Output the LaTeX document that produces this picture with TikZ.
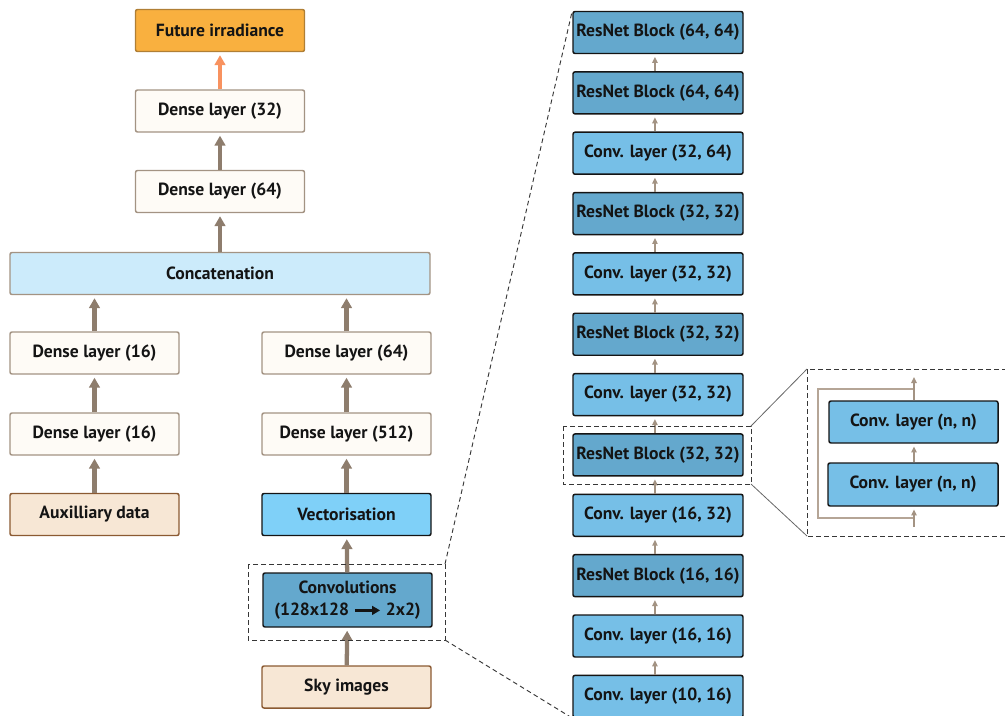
\documentclass[tikz,border=0pt]{standalone}
\usepackage{fontspec}
\setmainfont{PT Sans}
\usetikzlibrary{arrows.meta}

\definecolor{outC}{HTML}{F9B03F}
\definecolor{outB}{HTML}{B07F35}
\definecolor{creamC}{HTML}{FEFBF6}
\definecolor{greyB}{HTML}{A39383}
\definecolor{catC}{HTML}{CCEBFB}
\definecolor{inC}{HTML}{F7E7D5}
\definecolor{inB}{HTML}{8B5A32}
\definecolor{vecC}{HTML}{7FD0F8}
\definecolor{resC}{HTML}{64A8CD}
\definecolor{convC}{HTML}{76BFE7}
\definecolor{flowC}{HTML}{8E7D6D}
\definecolor{hotC}{HTML}{F8925F}
\definecolor{thinC}{HTML}{A39383}
\definecolor{skipC}{HTML}{B5A596}
\definecolor{inkC}{HTML}{141414}

% one drawing unit is one pixel of a 1005 x 715 canvas (0.75pt)
\tikzset{
  box/.style={draw, rounded corners=1.5pt, line width=1.1pt, align=center,
    font=\fontsize{13.2}{17}\selectfont\bfseries, text=inkC,
    minimum width=126.75pt, minimum height=31.5pt, inner sep=0pt},
  outbox/.style={box, fill=outC, draw=outB},
  densebox/.style={box, fill=creamC, draw=greyB},
  catbox/.style={box, fill=catC, draw=greyB, minimum width=315pt},
  inbox/.style={box, fill=inC, draw=inB},
  vecbox/.style={box, fill=vecC, draw=inkC},
  resbox/.style={box, fill=resC, draw=inkC, minimum width=127.5pt},
  convbox/.style={box, fill=convC, draw=inkC, minimum width=127.5pt},
  flow/.style={draw=flowC, line width=3.2pt, shorten >=2.2pt,
    -{Triangle[length=7.5pt,width=8pt]}},
  hotflow/.style={flow, draw=hotC},
  thin/.style={draw=thinC, line width=1.1pt, shorten >=2pt,
    -{Triangle[length=4.5pt,width=4pt]}},
  skip/.style={draw=skipC, line width=1.2pt},
  zoomframe/.style={draw=inkC!85, dash pattern=on 3.5pt off 2.5pt, line width=0.7pt},
  zoomlink/.style={draw=black!60, line width=0.6pt},
}

\begin{document}
\begin{tikzpicture}[x=0.75pt, y=-0.75pt]
\useasboundingbox (0,0) rectangle (1005,715);

% ---------- main network ----------
\node[outbox]   (fut)  at (220,30.5)  {Future irradiance};
\node[densebox] (d32)  at (220,111)   {Dense layer (32)};
\node[densebox] (d64a) at (220,191.5) {Dense layer (64)};
\node[catbox]   (cat)  at (220,273.5) {Concatenation};
\node[densebox] (d16a) at (94.5,353)  {Dense layer (16)};
\node[densebox] (d64b) at (346.5,353) {Dense layer (64)};
\node[densebox] (d16b) at (94.5,434)  {Dense layer (16)};
\node[densebox] (d512) at (346.5,434) {Dense layer (512)};
\node[inbox]    (aux)  at (94.5,514.5) {Auxilliary data};
\node[vecbox]   (vec)  at (346.5,514.5) {Vectorisation};
\node[resbox, minimum width=126.75pt, minimum height=40.5pt] (conv) at (347.5,600)
  {Convolutions\\(128x128 \tikz[baseline=-0.6ex]\draw[line width=1.8pt,
   -{Triangle[length=6pt,width=6.5pt]}] (0pt,0pt) -- (19pt,0pt); 2x2)};
\node[inbox]    (sky)  at (346.5,687) {Sky images};

\draw[hotflow] (d32) -- (fut);
\draw[flow] (d64a) -- (d32);
\draw[flow] (cat) -- (d64a);
\draw[flow] (d16a) -- (d16a |- cat.south);
\draw[flow] (d64b) -- (d64b |- cat.south);
\draw[flow] (d16b) -- (d16a);
\draw[flow] (d512) -- (d64b);
\draw[flow] (aux) -- (d16b);
\draw[flow] (vec) -- (d512);
\draw[flow] (conv) -- (vec);
\draw[flow] (sky) -- (conv);

% ---------- convolution stack ----------
\foreach \nm/\sty/\lbl [count=\i from 0] in {
  r1/resbox/{ResNet Block (64, 64)},
  r2/resbox/{ResNet Block (64, 64)},
  c3/convbox/{Conv. layer (32, 64)},
  r4/resbox/{ResNet Block (32, 32)},
  c5/convbox/{Conv. layer (32, 32)},
  r6/resbox/{ResNet Block (32, 32)},
  c7/convbox/{Conv. layer (32, 32)},
  r8/resbox/{ResNet Block (32, 32)},
  c9/convbox/{Conv. layer (16, 32)},
  r10/resbox/{ResNet Block (16, 16)},
  c11/convbox/{Conv. layer (16, 16)},
  c12/convbox/{Conv. layer (10, 16)}}
  \node[\sty] (\nm) at (658,32.5+60.35*\i) {\lbl};

\foreach \lo/\hi in {r2/r1, c3/r2, r4/c3, c5/r4, r6/c5, c7/r6, r8/c7,
                     c9/r8, r10/c9, c11/r10, c12/c11}
  \draw[thin] ([xshift=-2.3pt]\lo.north) -- ([xshift=-2.3pt]\hi.south);

% ---------- zoom frames ----------
\coordinate (zA) at (248,564);
\coordinate (zB) at (445,640);
\draw[zoomframe] (zA) rectangle (zB);
\coordinate (zTR) at (445,564);
\draw[zoomframe] (zTR) -- (r1.north west);
\draw[zoomframe] (zB) -- (c12.south west);

\coordinate (rA) at (563,426);
\coordinate (rB) at (751,484);
\coordinate (rTR) at (751,426);
\draw[zoomframe] (rA) rectangle (rB);

\coordinate (iA) at (807,369);
\coordinate (iB) at (1012,536);
\coordinate (iBL) at (807,536);
\draw[zoomframe] (iA) rectangle (iB);
\draw[zoomlink] (rTR) -- (iA);
\draw[zoomlink] (rB) -- (iBL);

% ---------- residual block detail ----------
\node[convbox, minimum width=126.75pt] (nt) at (913.5,422)   {Conv. layer (n, n)};
\node[convbox, minimum height=32.25pt] (nb) at (913,484.5) {Conv. layer (n, n)};

\coordinate (resIn)  at (914,527);
\coordinate (skipLo) at (914,518);
\coordinate (skipHi) at (914,389);
\coordinate (resOut) at (914,377);
\draw[skip] (skipLo) -- (818,518) -- (818,389) -- (skipHi);
\draw[thin] (resIn) -- (resIn |- nb.south);
\draw[thin] (nb.north -| resIn) -- (resIn |- nt.south);
\draw[thin, shorten >=0pt] (nt.north -| resIn) -- (resOut);
\end{tikzpicture}
\end{document}
